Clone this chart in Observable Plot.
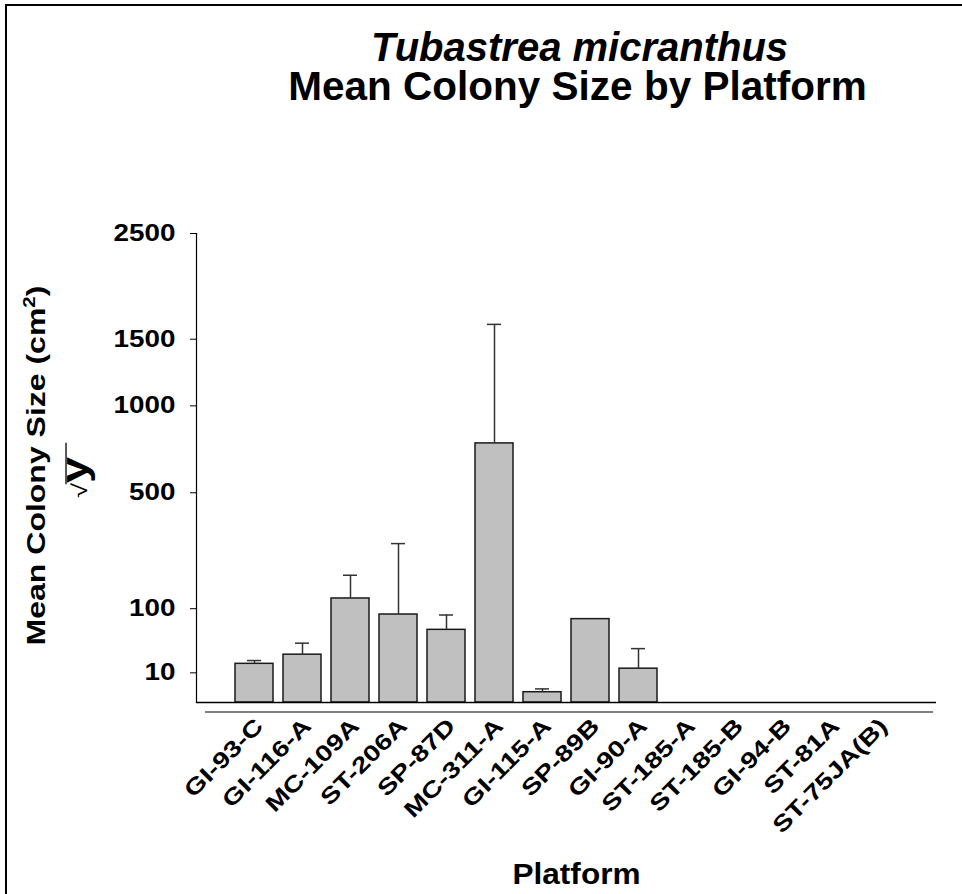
<!DOCTYPE html>
<html>
<head>
<meta charset="utf-8">
<script src="https://cdn.jsdelivr.net/npm/d3@7"></script>
<script src="https://cdn.jsdelivr.net/npm/@observablehq/plot@0.6"></script>
<style>
  html, body { margin: 0; padding: 0; background: #fff; }
  #wrap { position: relative; width: 962px; height: 894px; overflow: hidden; background: #fff; }
  #edge { position: absolute; left: 5px; top: 4px; right: -10px; bottom: -10px;
          border-left: 2px solid #000; border-top: 2px solid #000; pointer-events: none; }
  #wrap svg { position: absolute; left: 0; top: 0; }
</style>
</head>
<body>
<div id="wrap"><div id="edge"></div></div>
<script>
// Platforms in plotting order
const platforms = ["GI-93-C", "GI-116-A", "MC-109A", "ST-206A", "SP-87D", "MC-311-A", "GI-115-A",
                   "SP-89B", "GI-90-A", "ST-185-A", "ST-185-B", "GI-94-B", "ST-81A", "ST-75JA(B)"];
// Mean colony size (cm^2); null = no colonies recorded
const meanSize = [17, 26, 123, 88, 60, 763, 1.2, 79, 13, null, null, null, null, null];
// Standard error of the mean (cm^2)
const stdErr = [3, 14, 61, 199, 27, 862, 0.9, null, 20, null, null, null, null, null];
// Y axis tick values
const yTickValues = [10, 100, 500, 1000, 1500, 2500];

const rows = platforms.map((platform, i) => ({platform, mean: meanSize[i], se: stdErr[i]}));
const bars = rows.filter(d => d.mean != null);
const errs = rows.filter(d => d.mean != null && d.se != null).map(d => ({...d, upper: d.mean + d.se}));

const font = "'Liberation Sans', Arial, Helvetica, sans-serif";
const yTitle = "Mean Colony Size (cm2)";
const rootLabel = "√y";

const chart = Plot.plot({
  width: 962,
  height: 894,
  marginLeft: 196,
  marginRight: 26,
  marginTop: 233,
  marginBottom: 192,
  style: {fontFamily: font, fontWeight: "bold", fontSize: "22px", color: "#000", background: "transparent", overflow: "visible"},
  x: {type: "band", domain: platforms, paddingInner: 0.2, paddingOuter: 0.8, label: null},
  y: {type: "sqrt", domain: [0, 2500], label: null},
  marks: [
    Plot.barY(bars, {x: "platform", y: "mean", fill: "#c0c0c0", stroke: "#1a1a1a", strokeWidth: 1.5}),
    Plot.ruleX(errs, {x: "platform", y1: "mean", y2: "upper", stroke: "#333", strokeWidth: 1.5}),
    Plot.tickY(errs, {x: "platform", y: "upper", stroke: "#333", strokeWidth: 1.5, insetLeft: 12, insetRight: 12}),
    Plot.ruleY([0], {stroke: "#000", strokeWidth: 1.5}),
    Plot.ruleY([0], {stroke: "#000", strokeWidth: 1.2, dy: 9.5, insetLeft: 9, insetRight: 3}),
    Plot.frame({anchor: "left", stroke: "#000", strokeWidth: 1.2}),
    Plot.axisY({ticks: yTickValues, tickFormat: d3.format("d"), tickSize: 6, tickPadding: 15, label: null, fontSize: 23}),
    Plot.axisX({tickRotate: -45, tickSize: 0, tickPadding: 20, dx: 5, label: null, fontSize: 22.5}),
    Plot.text(["Platform"], {text: d => d, frameAnchor: "bottom", dx: 10, dy: 181, lineAnchor: "bottom", fontSize: 29.5}),
    Plot.text([yTitle], {text: d => d, frameAnchor: "left", textAnchor: "middle", rotate: -90, dx: -160, dy: -2.5, fontSize: 25}),
    Plot.text([rootLabel], {text: d => d, frameAnchor: "left", textAnchor: "middle", rotate: -90, dx: -121, dy: 9.5, fontSize: 36}),
    Plot.text(["Tubastrea micranthus"], {text: d => d, frameAnchor: "top", dx: 13, dy: -173, lineAnchor: "bottom", fontSize: 40, fontStyle: "italic"}),
    Plot.text(["Mean Colony Size by Platform"], {text: d => d, frameAnchor: "top", dx: 11, dy: -134, lineAnchor: "bottom", fontSize: 40.5})
  ]
});

document.getElementById("wrap").append(chart);

const svgNS = "http://www.w3.org/2000/svg";
const textsOf = str => [...chart.querySelectorAll("text")].filter(t => t.textContent === str);

// Widen the glyphs along the baseline, keeping the anchor point fixed
function stretchEl(t, k) {
  const x = parseFloat(t.getAttribute("x")) || 0, y = parseFloat(t.getAttribute("y")) || 0;
  const base = t.getAttribute("transform") || "";
  t.setAttribute("transform", `${base} translate(${x},${y}) scale(${k},1) translate(${-x},${-y})`);
}

const yTitleEls = textsOf(yTitle);
const rootEls = textsOf(rootLabel);
const xLabelEls = textsOf("Platform");

// Superscript 2 in the y label
yTitleEls.forEach(t => {
  t.textContent = "Mean Colony Size (cm";
  const sup = document.createElementNS(svgNS, "tspan");
  sup.textContent = "2";
  sup.setAttribute("font-size", "16");
  sup.setAttribute("dy", "-10");
  const close = document.createElementNS(svgNS, "tspan");
  close.textContent = ")";
  close.setAttribute("dy", "10");
  t.append(sup, close);
});

// Radical sign: a small check followed by the radicand
rootEls.forEach(t => {
  t.textContent = "";
  const rad = document.createElementNS(svgNS, "tspan");
  rad.textContent = "√";
  rad.setAttribute("font-size", "21");
  rad.setAttribute("font-weight", "normal");
  rad.setAttribute("font-family", "'Liberation Sans', 'DejaVu Sans', sans-serif");
  const arg = document.createElementNS(svgNS, "tspan");
  arg.textContent = "y";
  arg.setAttribute("font-family", "'Liberation Sans', Arial, sans-serif");
  arg.setAttribute("font-weight", "bold");
  t.append(rad, arg);
});

chart.querySelectorAll('g[aria-label="y-axis tick label"] text').forEach(t => stretchEl(t, 1.21));
chart.querySelectorAll('g[aria-label="x-axis tick label"] text').forEach(t => stretchEl(t, 1.26));
yTitleEls.forEach(t => stretchEl(t, 1.28));
rootEls.forEach(t => stretchEl(t, 1.3));
xLabelEls.forEach(t => stretchEl(t, 1.07));

// Vinculum over the radicand, drawn in the text's own frame
rootEls.forEach(t => {
  const radEnd = t.getEndPositionOfChar(0);
  const argEnd = t.getEndPositionOfChar(1);
  const yBar = argEnd.y - 21;
  const bar = document.createElementNS(svgNS, "line");
  bar.setAttribute("x1", radEnd.x - 1);
  bar.setAttribute("x2", argEnd.x + 11);
  bar.setAttribute("y1", yBar);
  bar.setAttribute("y2", yBar);
  bar.setAttribute("stroke", "#000");
  bar.setAttribute("stroke-width", "1.3");
  bar.setAttribute("transform", t.getAttribute("transform"));
  t.parentNode.append(bar);
});
</script>
</body>
</html>
